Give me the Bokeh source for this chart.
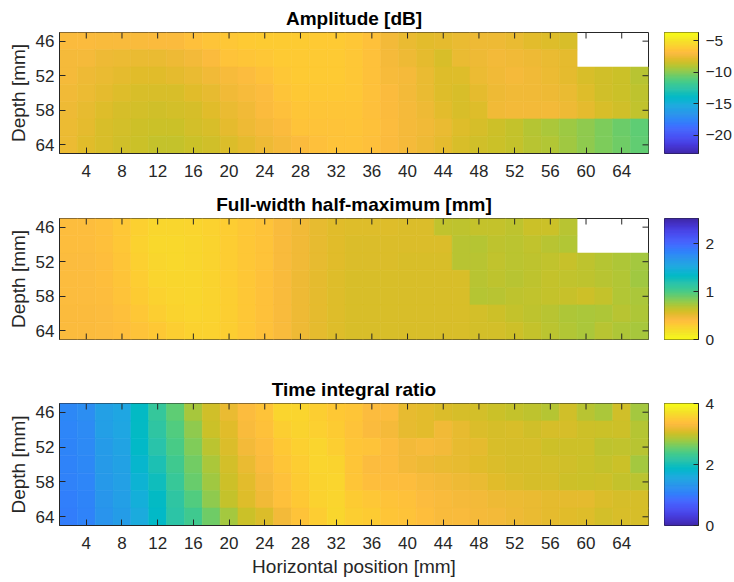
import numpy as np
from bokeh.plotting import figure
from bokeh.layouts import column, row
from bokeh.models import Range1d, FixedTicker, LinearColorMapper, ColumnDataSource
from bokeh.transform import transform
from bokeh.embed import file_html
from bokeh.resources import INLINE

nan = float("nan")

# ---------------- data ----------------
x_centers = list(range(2, 67, 2))          # horizontal position [mm], 33 columns
depths = [46, 49, 52, 55, 58, 61, 64]      # depth [mm], 7 rows
x_ticks = list(range(4, 65, 4))
y_ticks = [46, 52, 58, 64]

amplitude_db = [
    [-6.95, -7.0, -7.05, -7.05, -7.05, -7.0, -6.95, -6.7, -6.45, -6.3, -6.1, -6.05, -6.05, -6.05, -6.1, -6.15,
     -6.3, -6.55, -7.25, -7.6, -7.8, -7.73, -7.6, -7.45, -7.4, -7.6, -7.8, -7.9, -8.05, nan, nan, nan, nan],
    [-7.15, -7.15, -7.4, -7.5, -7.55, -7.55, -7.45, -7.25, -6.95, -6.5, -6.4, -6.3, -6.1, -6.1, -6.1, -6.15,
     -6.3, -6.55, -7.15, -7.45, -7.7, -8.05, -7.55, -7.4, -7.25, -7.3, -7.45, -7.6, -7.73, nan, nan, nan, nan],
    [-7.2, -7.4, -7.6, -7.75, -7.85, -7.85, -7.75, -7.6, -7.3, -7.1, -6.9, -6.55, -6.3, -6.15, -6.15, -6.15,
     -6.3, -6.6, -7.1, -7.2, -7.55, -7.9, -7.95, -7.5, -7.3, -7.2, -7.35, -7.5, -7.7, -8.05, -8.3, -8.5, -8.95],
    [-7.3, -7.5, -7.75, -7.95, -8.05, -8.05, -8.05, -7.85, -7.65, -7.35, -7.1, -6.9, -6.45, -6.25, -6.25, -6.25,
     -6.3, -6.6, -7.0, -7.25, -7.6, -7.9, -8.05, -7.7, -7.45, -7.3, -7.3, -7.4, -7.6, -7.95, -8.3, -8.5, -8.75],
    [-7.4, -7.65, -7.95, -8.15, -8.25, -8.3, -8.25, -8.15, -7.85, -7.55, -7.3, -7.0, -6.65, -6.35, -6.35, -6.35,
     -6.35, -6.65, -6.95, -7.15, -7.4, -7.8, -8.05, -7.9, -7.35, -7.25, -7.25, -7.25, -7.4, -7.75, -8.1, -8.35, -8.7],
    [-7.5, -7.75, -8.05, -8.25, -8.4, -8.5, -8.45, -8.25, -8.05, -7.75, -7.4, -7.2, -6.95, -6.5, -6.5, -6.5,
     -6.45, -6.6, -6.9, -7.15, -7.3, -7.6, -7.95, -8.17, -8.4, -8.6, -9.0, -9.2, -9.5, -9.85, -10.2, -10.55, -10.85],
    [-7.5, -7.85, -8.1, -8.35, -8.5, -8.6, -8.6, -8.5, -8.3, -8.0, -7.7, -7.4, -7.2, -6.95, -6.65, -6.5,
     -6.5, -6.65, -7.0, -7.2, -7.4, -7.7, -8.05, -8.3, -8.45, -8.6, -8.9, -9.1, -9.45, -9.8, -10.15, -10.5, -10.8],
]

fwhm_mm = [
    [0.41, 0.41, 0.39, 0.34, 0.28, 0.24, 0.24, 0.25, 0.27, 0.30, 0.34, 0.37, 0.44, 0.48, 0.52, 0.55,
     0.56, 0.56, 0.56, 0.57, 0.57, 0.66, 0.665, 0.645, 0.645, 0.67, 0.63, 0.63, 0.69, nan, nan, nan, nan],
    [0.41, 0.41, 0.39, 0.34, 0.27, 0.23, 0.23, 0.24, 0.26, 0.30, 0.34, 0.37, 0.44, 0.48, 0.52, 0.55,
     0.57, 0.57, 0.57, 0.57, 0.57, 0.57, 0.69, 0.70, 0.67, 0.68, 0.66, 0.69, 0.71, nan, nan, nan, nan],
    [0.42, 0.42, 0.40, 0.35, 0.28, 0.24, 0.23, 0.24, 0.26, 0.30, 0.34, 0.37, 0.44, 0.48, 0.52, 0.55,
     0.57, 0.57, 0.57, 0.58, 0.58, 0.58, 0.69, 0.69, 0.66, 0.68, 0.67, 0.66, 0.64, 0.67, 0.70, 0.72, 0.75],
    [0.42, 0.42, 0.40, 0.36, 0.30, 0.25, 0.24, 0.24, 0.26, 0.30, 0.34, 0.38, 0.44, 0.49, 0.53, 0.56,
     0.58, 0.58, 0.58, 0.58, 0.58, 0.58, 0.58, 0.69, 0.67, 0.69, 0.67, 0.645, 0.655, 0.67, 0.69, 0.71, 0.76],
    [0.42, 0.42, 0.41, 0.37, 0.31, 0.27, 0.25, 0.24, 0.26, 0.29, 0.34, 0.38, 0.44, 0.49, 0.53, 0.56,
     0.58, 0.58, 0.58, 0.58, 0.58, 0.58, 0.58, 0.70, 0.69, 0.67, 0.655, 0.645, 0.635, 0.62, 0.645, 0.71, 0.73],
    [0.43, 0.43, 0.42, 0.39, 0.34, 0.29, 0.26, 0.25, 0.26, 0.29, 0.34, 0.38, 0.44, 0.49, 0.53, 0.56,
     0.58, 0.58, 0.58, 0.58, 0.58, 0.58, 0.58, 0.60, 0.62, 0.645, 0.67, 0.69, 0.72, 0.73, 0.72, 0.69, 0.72],
    [0.43, 0.43, 0.42, 0.40, 0.37, 0.33, 0.29, 0.27, 0.27, 0.29, 0.34, 0.38, 0.44, 0.49, 0.53, 0.56,
     0.58, 0.58, 0.58, 0.58, 0.58, 0.58, 0.58, 0.60, 0.60, 0.62, 0.645, 0.68, 0.71, 0.73, 0.69, 0.72, 0.74],
]

time_integral_ratio = [
    [1.16, 1.23, 1.46, 1.54, 1.90, 2.26, 2.50, 2.84, 3.04, 3.20, 3.34, 3.42, 3.60, 3.60, 3.54, 3.48,
     3.44, 3.34, 3.34, 3.18, 3.15, 3.10, 3.07, 3.05, 3.00, 2.97, 2.95, 2.90, 3.04, 2.91, 2.85, 3.04, 2.82],
    [1.14, 1.20, 1.44, 1.54, 1.90, 2.20, 2.45, 2.72, 3.00, 3.14, 3.30, 3.40, 3.54, 3.58, 3.56, 3.50,
     3.42, 3.32, 3.28, 3.18, 3.15, 3.24, 3.18, 3.10, 3.07, 3.09, 3.04, 3.07, 3.07, 3.03, 3.01, 3.02, 2.90],
    [1.12, 1.18, 1.40, 1.50, 1.86, 2.14, 2.40, 2.66, 2.93, 3.10, 3.25, 3.35, 3.48, 3.56, 3.60, 3.54,
     3.44, 3.42, 3.33, 3.25, 3.29, 3.26, 3.18, 3.16, 3.09, 3.07, 3.07, 3.02, 3.03, 3.03, 2.95, 2.96, 2.92],
    [1.10, 1.16, 1.38, 1.48, 1.80, 2.06, 2.34, 2.60, 2.85, 3.06, 3.20, 3.32, 3.44, 3.53, 3.60, 3.58,
     3.44, 3.34, 3.33, 3.26, 3.22, 3.19, 3.18, 3.14, 3.10, 3.07, 3.07, 3.05, 3.04, 3.00, 2.97, 3.01, 2.82],
    [1.08, 1.14, 1.36, 1.46, 1.74, 1.98, 2.28, 2.55, 2.80, 3.02, 3.15, 3.28, 3.40, 3.50, 3.58, 3.60,
     3.45, 3.36, 3.35, 3.35, 3.29, 3.26, 3.22, 3.19, 3.14, 3.10, 3.07, 3.07, 3.02, 3.00, 3.02, 2.98, 2.93],
    [1.06, 1.12, 1.33, 1.44, 1.68, 1.90, 2.20, 2.45, 2.72, 2.98, 3.12, 3.24, 3.38, 3.47, 3.57, 3.60,
     3.50, 3.46, 3.42, 3.40, 3.34, 3.30, 3.28, 3.26, 3.23, 3.21, 3.20, 3.17, 3.17, 3.16, 3.10, 3.07, 3.07],
    [1.04, 1.10, 1.30, 1.42, 1.62, 1.86, 2.16, 2.34, 2.58, 2.82, 3.00, 3.10, 3.25, 3.42, 3.53, 3.62,
     3.54, 3.50, 3.45, 3.41, 3.36, 3.31, 3.31, 3.28, 3.26, 3.23, 3.20, 3.16, 3.13, 3.11, 3.06, 3.08, 3.07],
]

amp_clim = (-22.9, -3.7)
fwhm_clim = (0.0, 2.53)
tir_clim = (0.0, 4.0)
amp_cticks = [-20, -15, -10, -5]
fwhm_cticks = [0, 1, 2]
tir_cticks = [0, 2, 4]

# ---------------- parula colormap ----------------
PARULA_IDX = [0, 8, 16, 24, 32, 40, 48, 56, 64, 72, 80, 88, 96, 104, 112, 120, 128, 136, 144,
              152, 160, 168, 176, 184, 192, 200, 208, 213, 216, 224, 232, 240, 248, 255]
PARULA_RGB = [
    (0.2422, 0.1504, 0.6603), (0.2576, 0.1814, 0.7501), (0.2704, 0.2138, 0.8346), (0.2781, 0.2543, 0.8973),
    (0.2813, 0.2985, 0.9397), (0.2798, 0.3421, 0.9702), (0.2710, 0.3860, 0.9898), (0.2473, 0.4319, 0.9983),
    (0.2006, 0.4803, 0.9906), (0.1795, 0.5244, 0.9709), (0.1716, 0.5655, 0.9393), (0.1475, 0.6043, 0.9113),
    (0.1288, 0.6408, 0.8910), (0.1009, 0.6750, 0.8653), (0.0433, 0.7039, 0.8242), (0.0018, 0.7275, 0.7752),
    (0.0770, 0.7468, 0.7224), (0.1609, 0.7635, 0.6671), (0.2061, 0.7808, 0.6065), (0.2695, 0.7951, 0.5360),
    (0.3671, 0.8021, 0.4563), (0.4753, 0.8011, 0.3691), (0.5886, 0.7913, 0.2833), (0.6963, 0.7750, 0.2075),
    (0.7945, 0.7554, 0.1570), (0.8804, 0.7372, 0.1650), (0.9523, 0.7284, 0.2237), (0.9900, 0.7365, 0.2429),
    (0.9971, 0.7513, 0.2309), (0.9938, 0.7974, 0.1974), (0.9748, 0.8467, 0.1726), (0.9601, 0.8963, 0.1507),
    (0.9642, 0.9437, 0.1216), (0.9769, 0.9839, 0.0805),
]
_a = np.array(PARULA_RGB)
PARULA = []
for i in range(256):
    c = [np.interp(i, PARULA_IDX, _a[:, k]) for k in range(3)]
    PARULA.append("#%02x%02x%02x" % tuple(int(round(v * 255)) for v in c))
PARULA_R = PARULA[::-1]

FONT = "Liberation Sans"
AX = "#262626"
TICK_PX = 6
FRAME_W = 589
X_RANGE = (1, 67)
Y_RANGE = (65.5, 44.5)   # reversed: depth increases downward


def style_axis(ax, size="17px", tick=TICK_PX):
    ax.major_tick_in = tick
    ax.major_tick_out = 0
    ax.minor_tick_in = 0
    ax.minor_tick_out = 0
    ax.major_tick_line_color = AX
    ax.major_tick_line_width = 1
    ax.axis_line_color = AX
    ax.axis_line_width = 1
    ax.major_label_text_color = AX
    ax.major_label_text_font = FONT
    ax.major_label_text_font_size = size


def mirror_ticks(p, frame_h, bottom_too):
    # tick length in data units from pixel length
    dx = TICK_PX * (X_RANGE[1] - X_RANGE[0]) / FRAME_W
    dy = TICK_PX * abs(Y_RANGE[0] - Y_RANGE[1]) / frame_h
    top = Y_RANGE[1]
    bot = Y_RANGE[0]
    xs0 = list(x_ticks)
    p.segment(x0=xs0, y0=[top] * len(xs0), x1=xs0, y1=[top + dy] * len(xs0),
              line_color=AX, line_width=1)
    if bottom_too:
        p.segment(x0=xs0, y0=[bot] * len(xs0), x1=xs0, y1=[bot - dy] * len(xs0),
                  line_color=AX, line_width=1)
    ys0 = list(y_ticks)
    p.segment(x0=[X_RANGE[1]] * len(ys0), y0=ys0, x1=[X_RANGE[1] - dx] * len(ys0), y1=ys0,
              line_color=AX, line_width=1)


def heat_panel(values, title, clim, palette, frame_h, bottom, show_xaxis, xlabel):
    xs, ys, vs = [], [], []
    for r, d in enumerate(depths):
        for c, xc in enumerate(x_centers):
            v = values[r][c]
            if v != v:
                continue
            xs.append(xc)
            ys.append(d)
            vs.append(v)
    src = ColumnDataSource(dict(x=xs, y=ys, v=vs))
    mapper = LinearColorMapper(palette=palette, low=clim[0], high=clim[1])
    p = figure(frame_width=FRAME_W, frame_height=frame_h,
               x_range=Range1d(*X_RANGE), y_range=Range1d(*Y_RANGE),
               output_backend="svg", toolbar_location=None, title=title,
               x_axis_location="below" if show_xaxis else None,
               min_border_left=59, min_border_right=16, min_border_top=32,
               min_border_bottom=bottom)
    p.rect(x="x", y="y", width=2, height=3, source=src,
           fill_color=transform("v", mapper), line_color=transform("v", mapper), line_width=0.6)
    p.grid.visible = False
    p.outline_line_color = AX
    p.outline_line_width = 1
    p.background_fill_color = "white"
    p.border_fill_color = "white"

    if show_xaxis:
        p.xaxis.ticker = FixedTicker(ticks=x_ticks)
        style_axis(p.xaxis[0])
        p.xaxis.major_label_standoff = 11
    p.yaxis.ticker = FixedTicker(ticks=y_ticks)
    style_axis(p.yaxis[0])
    p.yaxis.major_label_standoff = 5
    p.yaxis.axis_label = "Depth [mm]"
    p.yaxis.axis_label_text_font = FONT
    p.yaxis.axis_label_text_font_size = "19px"
    p.yaxis.axis_label_text_font_style = "normal"
    p.yaxis.axis_label_text_color = AX
    p.yaxis.axis_label_standoff = 4
    if xlabel:
        p.xaxis.axis_label = xlabel
        p.xaxis.axis_label_text_font = FONT
        p.xaxis.axis_label_text_font_size = "19px"
        p.xaxis.axis_label_text_font_style = "normal"
        p.xaxis.axis_label_text_color = AX
        p.xaxis.axis_label_standoff = 4

    mirror_ticks(p, frame_h, bottom_too=not show_xaxis)

    p.title.text_font = FONT
    p.title.text_font_size = "19px"
    p.title.text_font_style = "bold"
    p.title.text_color = "black"
    p.title.align = "center"
    p.title.standoff = 7
    return p


def colorbar_panel(clim, palette, ticks, frame_h, bottom):
    p = figure(frame_width=34, frame_height=frame_h,
               x_range=Range1d(0, 1), y_range=Range1d(clim[0], clim[1]),
               output_backend="svg", toolbar_location=None,
               x_axis_location=None, y_axis_location="right",
               min_border_left=0, min_border_right=36, min_border_top=32,
               min_border_bottom=bottom)
    edges = np.linspace(clim[0], clim[1], len(palette) + 1)
    p.quad(left=0, right=1, bottom=edges[:-1], top=edges[1:],
           fill_color=palette, line_color=palette, line_width=0.5)
    p.grid.visible = False
    p.outline_line_color = AX
    p.outline_line_width = 1
    p.yaxis.ticker = FixedTicker(ticks=ticks)
    style_axis(p.yaxis[0], size="15.5px", tick=5)
    p.yaxis.major_label_standoff = 7
    return p


p1 = heat_panel(amplitude_db, "Amplitude [dB]", amp_clim, PARULA, 121, 33, True, None)
c1 = colorbar_panel(amp_clim, PARULA, amp_cticks, 121, 33)
p2 = heat_panel(fwhm_mm, "Full-width half-maximum [mm]", fwhm_clim, PARULA_R, 121, 32, False, None)
c2 = colorbar_panel(fwhm_clim, PARULA_R, fwhm_cticks, 121, 32)
p3 = heat_panel(time_integral_ratio, "Time integral ratio", tir_clim, PARULA, 122, 57, True,
                "Horizontal position [mm]")
c3 = colorbar_panel(tir_clim, PARULA, tir_cticks, 122, 57)

layout = column(row(p1, c1, spacing=0), row(p2, c2, spacing=0), row(p3, c3, spacing=0), spacing=0)

open("out.html", "w").write(file_html(layout, INLINE))
